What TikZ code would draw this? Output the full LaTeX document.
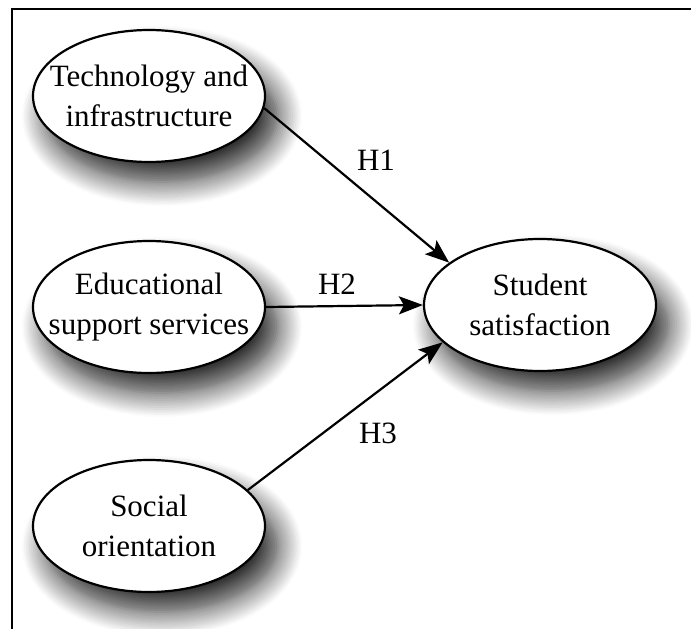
\documentclass[tikz,border=0pt]{standalone}
\usepackage{fontspec}
\setmainfont{Liberation Serif}
\usetikzlibrary{arrows.meta}
\usetikzlibrary{shapes.geometric}
\usetikzlibrary{shadows.blur}

\begin{document}
\begin{tikzpicture}[x=1pt, y=-1pt,
		construct/.style={ellipse, draw, fill=white, line width=2.2pt,
			minimum width=232pt, minimum height=132pt,
			inner xsep=-25pt, inner ysep=0pt,
			align=center, font=\fontsize{31}{40}\selectfont,
			blur shadow={shadow xshift=13pt, shadow yshift=-20pt,
				shadow blur radius=24pt, shadow blur steps=14,
				shadow opacity=85}},
		path/.style={line width=2.2pt, -{Stealth[length=24pt, width=18pt, inset=5pt]}},
		hyp/.style={font=\fontsize{31}{40}\selectfont}]
				\useasboundingbox (0,0) rectangle (691,629);
				\clip (0,0) rectangle (691,629);
				\draw[line width=2.5pt] (12,640) -- (12,9) -- (700,9);
				\node[construct] (tech) at (149,96)  {Technology and\\infrastructure};
				\node[construct] (edu)  at (149,307) {Educational\\support services};
				\node[construct] (soc)  at (149,526) {Social\\orientation};
				\node[construct] (sat)  at (540,305) {Student\\satisfaction};
				\draw[path] (tech.-6) -- (sat.155);
				\draw[path] (edu.east) -- (sat.west);
				\draw[path] (soc.20) -- (sat.201);
				\node[hyp] (h1) at (376,160) {H1};
				\node[hyp] (h2) at (337,284) {H2};
				\node[hyp] (h3) at (378,433) {H3};
			\end{tikzpicture}
\end{document}
